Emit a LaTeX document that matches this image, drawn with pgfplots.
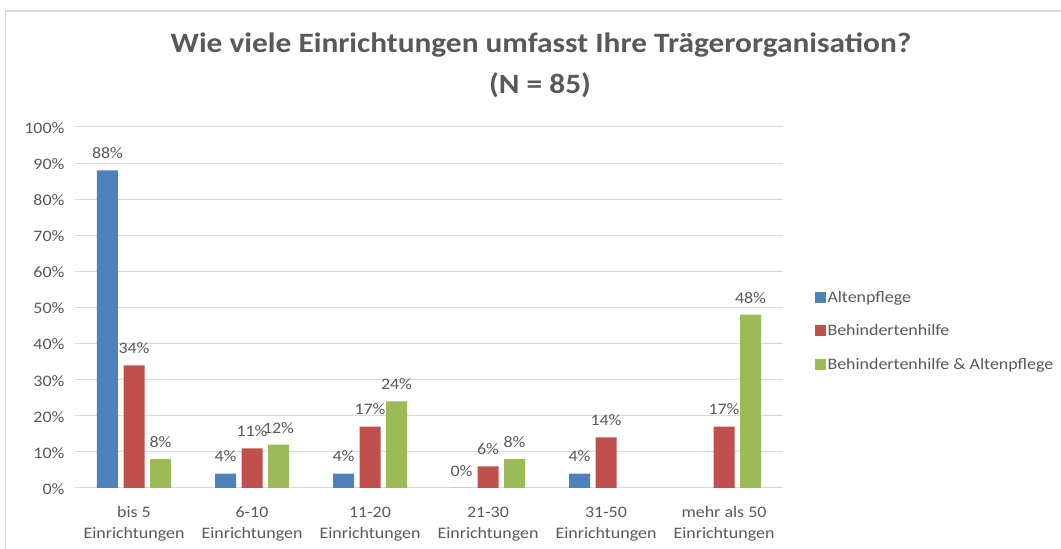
\documentclass[border=0pt]{standalone}
\usepackage{fontspec}
\setmainfont{Carlito}[FakeStretch=1.12]
\usepackage{pgfplots}
\pgfplotsset{compat=1.18}
\definecolor{cblue}{HTML}{4F81BD}
\definecolor{cred}{HTML}{C0504D}
\definecolor{cgreen}{HTML}{9BBB59}
\definecolor{tgray}{HTML}{595959}
\definecolor{ggray}{HTML}{D9D9D9}
\begin{document}
\begin{tikzpicture}[x=1pt,y=1pt]
\useasboundingbox (0,0) rectangle (1061,549);
\fill[white] (0,0) rectangle (1061,549);
\draw[ggray, line width=1.2pt] (5.5,0) -- (5.5,538) -- (1061,538);
\node[font=\fontsize{28}{32}\selectfont\bfseries, text=tgray] at (541,504) {Wie viele Einrichtungen umfasst Ihre Trägerorganisation?};
\node[font=\fontsize{28}{32}\selectfont\bfseries, text=tgray] at (540,464) {(N = 85)};
\begin{axis}[
  at={(75pt,61pt)}, anchor=south west,
  scale only axis, width=708pt, height=361pt,
  ybar=5.5pt, bar width=21pt,
  xmin=-0.5, xmax=5.5, ymin=0, ymax=100,
  enlarge x limits=false,
  xtick={0,1,2,3,4,5},
  xticklabels={{bis 5\\Einrichtungen},{6-10\\Einrichtungen},{11-20\\Einrichtungen},{21-30\\Einrichtungen},{31-50\\Einrichtungen},{mehr als 50\\Einrichtungen}},
  xticklabel style={align=center, font=\fontsize{16}{21}\selectfont, text=tgray, yshift=-11pt},
  ytick={0,10,...,100},
  yticklabel={\pgfmathprintnumber{\tick}\%},
  yticklabel style={font=\fontsize{16}{20}\selectfont, text=tgray, xshift=-7pt, yshift=-1pt},
  /pgf/number format/assume math mode=true,
  ymajorgrids, grid style={ggray, line width=1pt},
  axis lines*=left,
  x axis line style={ggray, line width=1pt, -},
  y axis line style={draw=none},
  tick style={draw=none},
  nodes near coords={\pgfmathprintnumber{\pgfplotspointmeta}\%},
  nodes near coords style={font=\fontsize{16}{20}\selectfont, text=tgray, yshift=8pt},
  point meta=y,
  legend style={at={(1.04,0.435)}, anchor=west, draw=none, fill=none,
    font=\fontsize{16}{20}\selectfont, text=tgray, row sep=17pt},
  legend cell align=left,
  legend image code/.code={\fill[#1] (0pt,-5.5pt) rectangle (11pt,5.5pt);},
]
\addplot[fill=cblue, draw=none] coordinates {(0,88) (1,4) (2,4) (3,0) (4,4)};
\addplot[fill=cred, draw=none] coordinates {(0,34) (1,11) (2,17) (3,6) (4,14) (5,17)};
\addplot[fill=cgreen, draw=none] coordinates {(0,8) (1,12) (2,24) (3,8) (5,48)};
\legend{Altenpflege, Behindertenhilfe, Behindertenhilfe \& Altenpflege}
\end{axis}
\end{tikzpicture}
\end{document}
